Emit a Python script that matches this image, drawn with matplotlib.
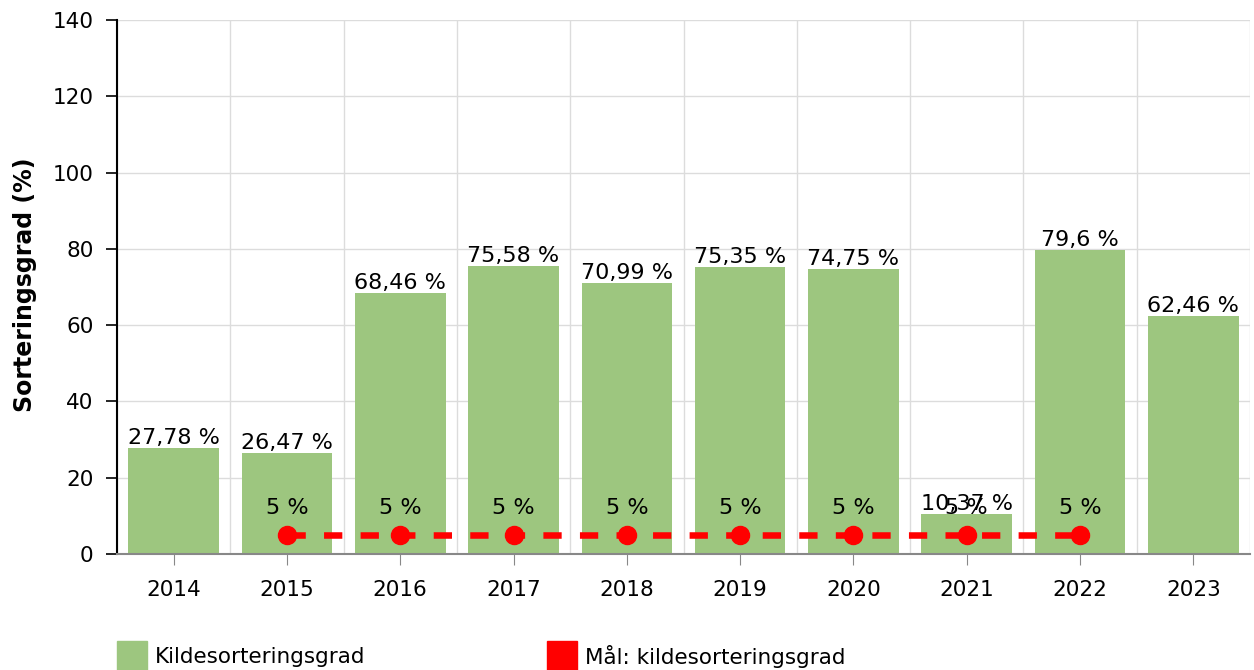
import matplotlib
matplotlib.use("Agg")
import matplotlib.pyplot as plt
import numpy as np
from matplotlib.patches import Rectangle

years = ["2014", "2015", "2016", "2017", "2018", "2019", "2020", "2021", "2022", "2023"]
sorting_rate = [27.78, 26.47, 68.46, 75.58, 70.99, 75.35, 74.75, 10.37, 79.6, 62.46]
goal_years = ["2015", "2016", "2017", "2018", "2019", "2020", "2021", "2022"]
goal_values = [5, 5, 5, 5, 5, 5, 5, 5]
y_ticks = [0, 20, 40, 60, 80, 100, 120, 140]
legend_labels = ["Kildesorteringsgrad", "Mål: kildesorteringsgrad"]

bar_color = "#9dc67f"
line_color = "#ff0000"

plt.rcParams['font.family'] = ['DejaVu Sans']

W, H = 1254, 670
fig = plt.figure(figsize=(W / 100, H / 100), dpi=100)
ax = fig.add_axes([117/W, 1 - 554/H, (1250 - 117)/W, (554 - 20)/H])

x = np.arange(len(years))
ax.bar(x, sorting_rate, width=0.8, color=bar_color, zorder=2)

def fmt(v):
    return f"{v:g}".replace('.', ',') + " %"

for xi, v in zip(x, sorting_rate):
    ax.annotate(fmt(v), (xi, v), xytext=(0, 0), textcoords="offset points",
                ha="center", va="bottom", fontsize=16, zorder=5)

gx = [years.index(y) for y in goal_years]
ax.plot(gx, goal_values, color=line_color, linewidth=4.7, linestyle=(0, (2.8, 2.8)),
        marker="o", markersize=13, zorder=4)
for xi, v in zip(gx, goal_values):
    ax.annotate(fmt(v), (xi, v), xytext=(0, 12), textcoords="offset points",
                ha="center", va="bottom", fontsize=16, zorder=5)

ax.set_xlim(-0.5, len(years) - 0.5)
ax.set_ylim(0, 140)
ax.set_yticks(y_ticks)
ax.set_xticks(x)
ax.set_xticklabels(years)
ax.set_xticks(np.arange(-0.5, len(years), 1.0), minor=True)
ax.grid(True, which="minor", axis="x", color="#dcdcdc", linewidth=1, zorder=0)
ax.grid(True, which="major", axis="y", color="#dcdcdc", linewidth=1, zorder=0)
ax.tick_params(axis="x", which="minor", length=0)
ax.tick_params(axis="x", which="major", length=8, color="#888888", labelsize=15.5, pad=11)
ax.tick_params(axis="y", length=8, color="black", labelsize=15.5, width=1.2, pad=9)

for s in ["top", "right"]:
    ax.spines[s].set_visible(False)
ax.spines["left"].set_color("black")
ax.spines["left"].set_linewidth(1.5)
ax.spines["bottom"].set_color("#888888")
ax.spines["bottom"].set_linewidth(1.5)

fig.text(25/W, 1 - 285/H, "Sorteringsgrad (%)", rotation=90, fontsize=17,
         fontweight="bold", ha="center", va="center")

# legend drawn at bottom
for (px, color, label) in [(117, bar_color, legend_labels[0]), (547, line_color, legend_labels[1])]:
    fig.add_artist(Rectangle((px / W, 0), 30 / W, 29 / H, transform=fig.transFigure,
                             facecolor=color, edgecolor=color))
    fig.text((px + 38) / W, 1 - 657 / H, label, fontsize=15.5, ha="left", va="center")

fig.savefig("out.png", dpi=100)
